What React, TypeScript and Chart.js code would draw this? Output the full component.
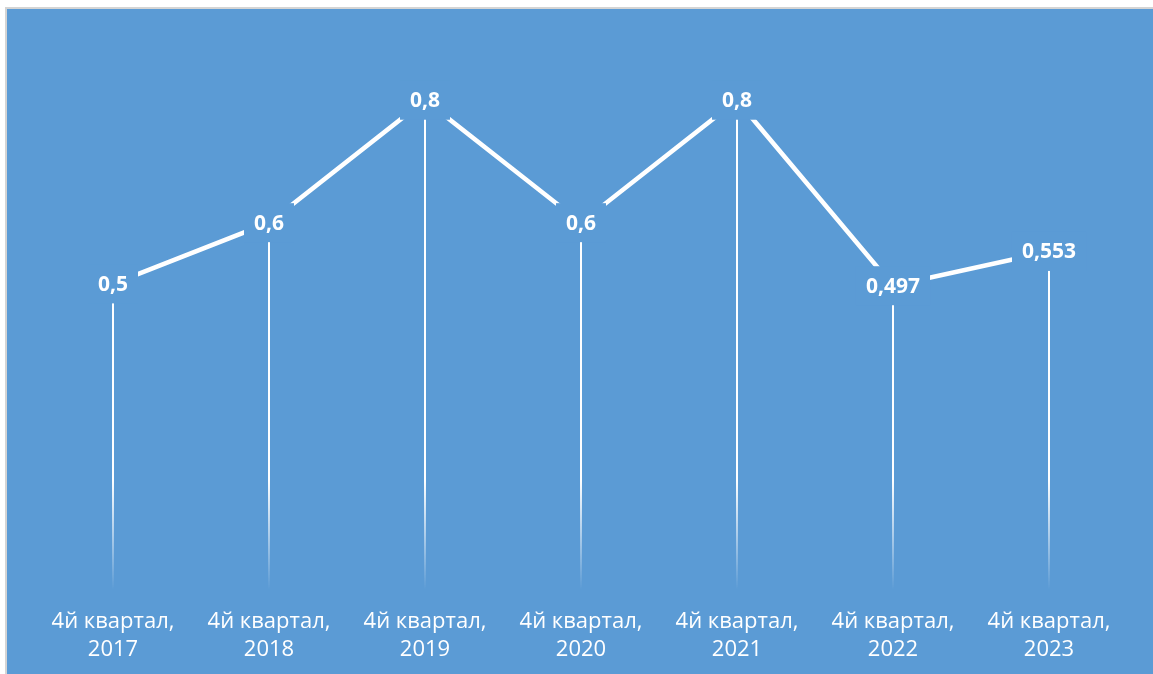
import React, { useEffect, useRef } from "react";
import { Chart, registerables } from "chart.js";

Chart.register(...registerables);

const quarterLabel = "4й квартал,";
const years = ["2017", "2018", "2019", "2020", "2021", "2022", "2023"];
const values = [0.5, 0.6, 0.8, 0.6, 0.8, 0.497, 0.553];
const valueLabels = ["0,5", "0,6", "0,8", "0,6", "0,8", "0,497", "0,553"];

const BG = "#5B9BD5";
const FONT = "'Open Sans', 'DejaVu Sans', sans-serif";

const dropAndLabels = {
  id: "dropAndLabels",
  beforeDatasetsDraw(chart: any) {
    const { ctx, chartArea } = chart;
    const meta = chart.getDatasetMeta(0);
    ctx.save();
    const g = ctx.createLinearGradient(0, chartArea.top, 0, chartArea.bottom);
    g.addColorStop(0, "rgba(255,255,255,1)");
    g.addColorStop(0.8, "rgba(255,255,255,1)");
    g.addColorStop(1, "rgba(255,255,255,0)");
    ctx.strokeStyle = g;
    ctx.lineWidth = 2;
    meta.data.forEach((pt: any) => {
      const x = Math.round(pt.x);
      ctx.beginPath();
      ctx.moveTo(x, pt.y);
      ctx.lineTo(x, chartArea.bottom);
      ctx.stroke();
    });
    ctx.restore();
  },
  afterDatasetsDraw(chart: any) {
    const { ctx } = chart;
    const meta = chart.getDatasetMeta(0);
    ctx.save();
    ctx.font = `bold 21px ${FONT}`;
    ctx.textAlign = "center";
    ctx.textBaseline = "middle";
    meta.data.forEach((pt: any, i: number) => {
      const text = valueLabels[i];
      const w = ctx.measureText(text).width;
      ctx.fillStyle = BG;
      ctx.fillRect(pt.x - w / 2 - 10, pt.y - 19.5, w + 20, 39);
      ctx.fillStyle = "#ffffff";
      ctx.fillText(text, pt.x, pt.y + 1);
    });
    ctx.restore();
  },
};

export default function App() {
  const ref = useRef<HTMLCanvasElement | null>(null);
  useEffect(() => {
    if (!ref.current) return;
    const chart = new Chart(ref.current, {
      type: "line",
      data: {
        labels: years.map((y) => [quarterLabel, y]),
        datasets: [
          {
            data: values,
            borderColor: "#ffffff",
            borderWidth: 4.5,
            pointRadius: 0,
            tension: 0,
            fill: false,
          },
        ],
      },
      options: {
        responsive: false,
        animation: false,
        devicePixelRatio: 1,
        layout: { padding: { left: 28, right: 34, top: 30, bottom: 14 } },
        plugins: {
          legend: { display: false },
          tooltip: { enabled: false },
        },
        scales: {
          x: {
            offset: true,
            grid: { display: false, drawTicks: false },
            border: { display: false },
            afterFit: (scale: any) => {
              scale.height = 74;
            },
            ticks: {
              color: "#ffffff",
              font: { family: FONT, size: 22, lineHeight: "28px" },
              padding: 18,
              maxRotation: 0,
              autoSkip: false,
            },
          },
          y: {
            display: false,
            min: 0,
            max: 0.9,
          },
        },
      },
      plugins: [dropAndLabels],
    });
    return () => chart.destroy();
  }, []);

  return (
    <div
      style={{
        position: "fixed",
        left: 5,
        top: 7,
        width: 1160,
        height: 680,
        borderLeft: "2px solid #d4d4d4",
        borderTop: "2px solid #d4d4d4",
        background: BG,
        overflow: "hidden",
      }}
    >
      <canvas ref={ref} width={1154} height={669} style={{ display: "block" }} />
    </div>
  );
}
